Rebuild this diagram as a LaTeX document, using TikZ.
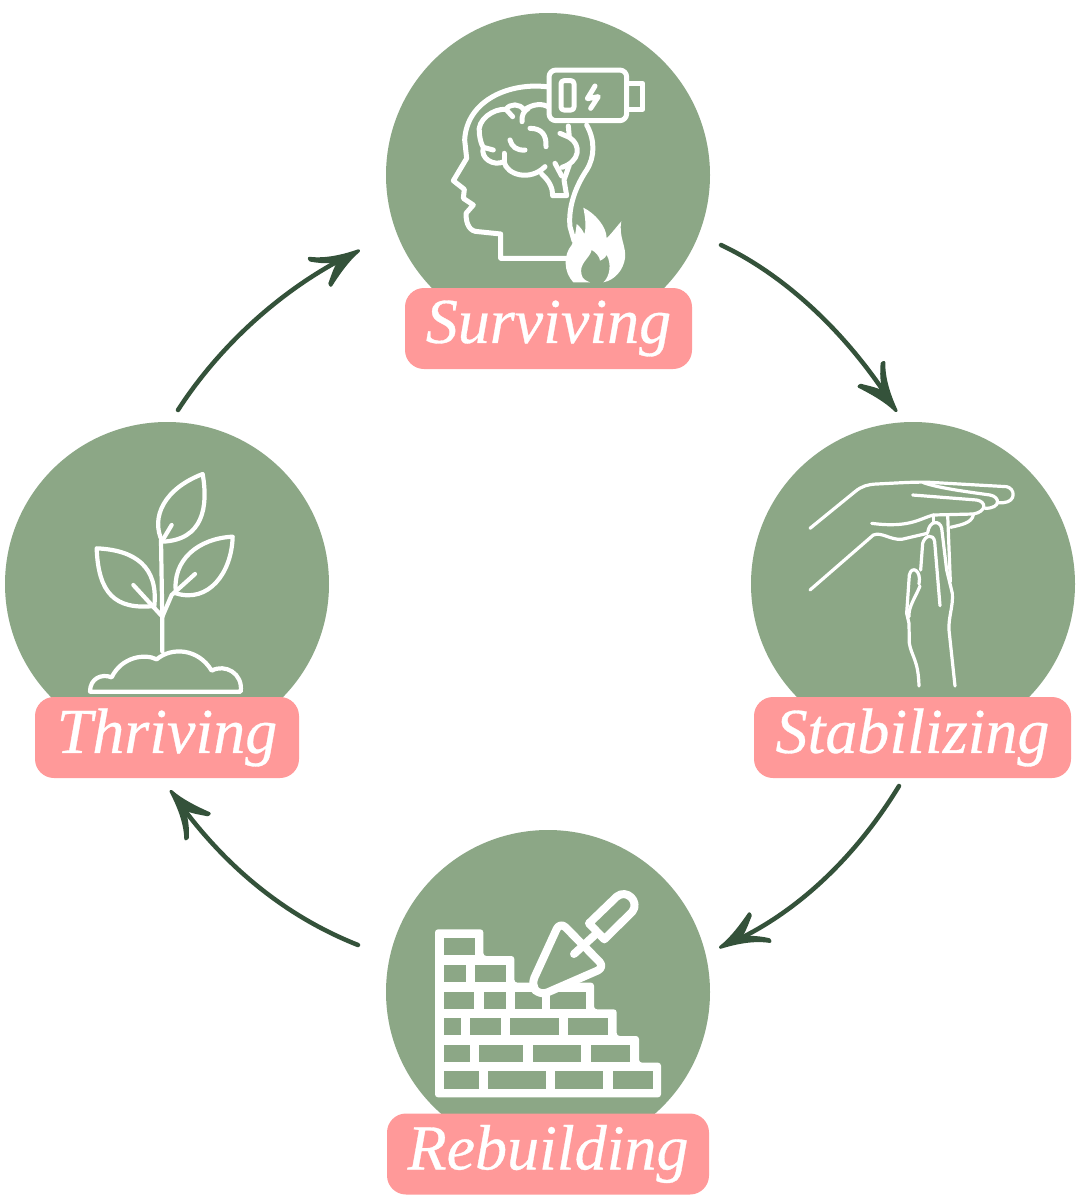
\documentclass[tikz,border=0pt]{standalone}
\usepackage{fontspec}
\setmainfont[ItalicFeatures={FakeBold=0.5}]{Liberation Serif}
\usetikzlibrary{arrows.meta,bending}
\definecolor{sage}{HTML}{8CA786}
\definecolor{pinkbox}{HTML}{FF9999}
\definecolor{arrowgreen}{HTML}{34523A}
\pgfdeclarearrow{
  name=HandBarb,
  setup code={
    \pgfarrowssettipend{1.5pt}
    \pgfarrowssetlineend{-14pt}
    \pgfarrowssetbackend{-48pt}
    \pgfarrowshullpoint{0pt}{0pt}
    \pgfarrowshullpoint{-48pt}{18pt}
    \pgfarrowshullpoint{-42pt}{-18pt}
  },
  drawing code={
    \pgfsetdash{}{0pt}
    \pgfsetroundjoin
    \pgfsetlinewidth{3pt}
    \pgfpathmoveto{\pgfqpoint{0pt}{0pt}}
    \pgfpathcurveto{\pgfqpoint{-15pt}{2.5pt}}{\pgfqpoint{-33pt}{7pt}}{\pgfqpoint{-47pt}{17pt}}
    \pgfpathlineto{\pgfqpoint{-47pt}{15pt}}
    \pgfpathcurveto{\pgfqpoint{-35pt}{5pt}}{\pgfqpoint{-25pt}{1.5pt}}{\pgfqpoint{-20pt}{0.5pt}}
    \pgfpathcurveto{\pgfqpoint{-27pt}{-2pt}}{\pgfqpoint{-33pt}{-8pt}}{\pgfqpoint{-41pt}{-15pt}}
    \pgfpathlineto{\pgfqpoint{-41pt}{-17pt}}
    \pgfpathcurveto{\pgfqpoint{-30pt}{-11pt}}{\pgfqpoint{-15pt}{-3pt}}{\pgfqpoint{0pt}{0pt}}
    \pgfpathclose
    \pgfusepathqfillstroke
  }
}
\tikzset{
  disc/.style={circle,fill=sage,minimum size=324pt,inner sep=0pt,outer sep=0pt},
  tag/.style={fill=pinkbox,rounded corners=19pt,minimum height=81pt,inner sep=0pt,outer sep=0pt,text=white,font=\fontsize{64}{64}\selectfont\itshape},
  flow/.style={draw=arrowgreen,line width=4.5pt,line cap=round,-{HandBarb[flex]}},
  icon/.style={draw=white,line cap=round,line join=round,fill=none},
  zoomed/.style={x=0.33333pt,y=-0.33333pt}
}
\newcommand{\tagtext}[1]{\raisebox{-3pt}{#1}}
\begin{document}
\begin{tikzpicture}[x=1pt,y=-1pt]
\useasboundingbox[fill=white] (0,0) rectangle (1080,1203);
\node[disc] (surv) at (548,175) {};
\node[disc] (stab) at (913,584) {};
\node[disc] (reb) at (548,992) {};
\node[disc] (thr) at (167,584) {};

% brain icon
\begin{scope}[shift={(430pt,-50pt)},zoomed]
\begin{scope}[icon,line width=5pt]
\draw (357,111) .. controls (240,95) and (110,150) .. (104,270) -- (110,325) -- (70,392) -- (103,418) -- (100,445) -- (130,465) -- (108,490) .. controls (108,525) and (120,545) .. (145,545) -- (212,552) -- (212,625) -- (410,625);
\draw (470,225) .. controls (495,270) and (495,320) .. (470,360) .. controls (430,420) and (415,480) .. (420,530) -- (432,572);
\draw (357,172) .. controls (340,160) and (310,160) .. (282,180) .. controls (270,160) and (240,160) .. (228,178) .. controls (190,175) and (140,210) .. (148,250) .. controls (150,270) and (155,285) .. (160,292) .. controls (150,325) and (190,350) .. (222,335) .. controls (230,375) and (300,395) .. (345,350);
\draw (335,372) .. controls (360,395) and (368,415) .. (368,437) -- (410,437) -- (402,390) -- (418,345);
\draw (375,340) -- (395,378);
\draw (396,352) .. controls (450,335) and (455,285) .. (418,262) -- (390,250);
\draw (415,228) -- (418,262);
\draw (276,215) .. controls (275,195) and (280,185) .. (295,175);
\draw (300,235) .. controls (335,235) and (350,255) .. (348,290);
\draw (240,270) .. controls (245,290) and (260,302) .. (285,300);
\draw (222,310) -- (222,335);
\draw (228,178) -- (248,200);
\draw (160,292) -- (190,300);
\draw[fill=sage,rounded corners=7pt] (357,60) rectangle (590,212);
\draw[rounded corners=3pt] (393,92) rectangle (432,180);
\draw (595,100) -- (638,100) -- (638,178) -- (595,178);
\draw (495,108) -- (472,146) -- (505,140) -- (482,175);
\end{scope}
\fill[white] (430,697) .. controls (400,665) and (400,615) .. (425,585) .. controls (435,565) and (438,540) .. (440,522) .. controls (450,530) and (458,540) .. (463,552) .. controls (470,530) and (465,500) .. (460,473) .. controls (495,490) and (530,530) .. (530,565) .. controls (545,550) and (560,530) .. (574,514) .. controls (565,560) and (590,590) .. (585,625) .. controls (580,660) and (555,690) .. (520,697) .. controls (540,680) and (545,640) .. (530,615) .. controls (525,625) and (515,630) .. (510,632) .. controls (510,620) and (495,605) .. (485,600) .. controls (480,625) and (445,640) .. (455,675) .. controls (458,688) and (468,692) .. (480,697) -- cycle;
\end{scope}

% hand icon
\begin{scope}[shift={(790pt,-460pt)},zoomed]
\begin{scope}[icon,line width=3.2pt]
\draw (60,205) -- (195,95) .. controls (215,78) and (235,73) .. (260,72) .. controls (340,68) and (380,65) .. (420,67) -- (650,80) .. controls (675,85) and (680,125) .. (640,128) -- (622,128);
\draw (400,68) .. controls (450,85) and (530,95) .. (600,105) .. controls (630,110) and (635,145) .. (585,145);
\draw (368,105) -- (560,120) .. controls (590,125) and (590,155) .. (550,162) -- (430,165) .. controls (390,175) and (360,205) .. (245,190);
\draw (550,165) .. controls (545,190) and (510,195) .. (482,202);
\draw (60,390) -- (250,225) .. controls (275,215) and (300,240) .. (335,238) -- (412,220);
\draw (430,165) -- (430,185);
\draw (413,218) .. controls (418,180) and (450,180) .. (455,205) -- (470,330) -- (487,400) .. controls (490,440) and (475,470) .. (477,510) -- (495,678);
\draw (473,165) -- (481,365);
\draw (392,330) -- (398,250) .. controls (405,225) and (430,220) .. (434,245) -- (450,437);
\draw (387,372) .. controls (395,330) and (365,315) .. (358,345) -- (350,460) -- (357,490) -- (358,550) .. controls (365,590) and (385,600) .. (387,678);
\draw (390,378) .. controls (375,415) and (355,440) .. (357,470);
\end{scope}
\end{scope}

% brick wall icon
\begin{scope}[shift={(425pt,-880pt)},zoomed]
\fill[white,rounded corners=3pt] (30,148) -- (175,148) -- (175,228) -- (268,228) -- (268,308) -- (507,308) -- (507,388) -- (575,388) -- (575,468) -- (642,468) -- (642,548) -- (708,548) -- (708,652) -- (30,652) -- cycle;
\foreach \xa/\ya/\xb/\yb in {56/174/149/226,
  56/255/122/306,150/255/242/306,
  56/335/148/386,176/335/242/386,270/335/350/386,376/335/482/386,
  56/414/108/465,136/414/229/465,256/414/403/465,430/414/549/465,
  56/494/135/545,163/494/295/545,323/494/469/545,497/494/615/545,
  56/573/162/626,189/573/362/626,389/573/535/626,563/573/683/626}
  \fill[sage] (\xa,\ya) rectangle (\xb,\yb);
\begin{scope}[icon,line width=8pt]
\draw[fill=sage,rounded corners=8pt] (405,125) -- (540,262) -- (345,347) -- (318,315) -- cycle;
\draw (447,222) -- (515,160);
\draw[fill=sage] (492,130) -- (575,50) .. controls (605,25) and (645,65) .. (622,95) -- (538,178) -- cycle;
\end{scope}
\end{scope}

% plant icon
\begin{scope}[shift={(75pt,-460pt)},zoomed]
\begin{scope}[icon,line width=4.2pt]
\draw (262,575) -- (262,480) -- (258,240);
\draw (262,245) .. controls (225,170) and (270,85) .. (383,42) .. controls (400,140) and (385,240) .. (262,245);
\draw (266,235) -- (290,195);
\draw (238,438) .. controls (120,450) and (70,400) .. (65,265) .. controls (180,270) and (250,320) .. (238,438);
\draw (175,375) -- (262,470);
\draw (303,400) .. controls (290,300) and (370,235) .. (473,230) .. controls (470,340) and (400,430) .. (303,400);
\draw (360,342) -- (290,405) -- (262,470);
\draw (45,695) .. controls (45,655) and (80,640) .. (110,652) .. controls (140,590) and (210,580) .. (245,598) .. controls (290,560) and (370,565) .. (410,632) .. controls (450,610) and (505,640) .. (497,695) -- cycle;
\end{scope}
\end{scope}

\node[tag,minimum width=287pt] (survl) at (548.5,328.5) {\tagtext{Surviving}};
\node[tag,minimum width=317pt] (stabl) at (912.5,737.5) {\tagtext{Stabilizing}};
\node[tag,minimum width=322pt] (rebl) at (548,1154) {\tagtext{Rebuilding}};
\node[tag,minimum width=264pt] (thrl) at (167,737.5) {\tagtext{Thriving}};

\draw[flow] ([xshift=173pt,yshift=-70pt]surv.center) .. controls (785,275) and (850,335) .. ([xshift=-16pt,yshift=172pt]stab.center);
\draw[flow] ([xshift=-14pt,yshift=-202pt]stab.center) .. controls (860,850) and (800,915) .. ([xshift=171pt,yshift=44pt]reb.center);
\draw[flow] ([xshift=-190pt,yshift=47pt]reb.center) .. controls (290,918) and (225,870) .. ([xshift=3pt,yshift=-206pt]thr.center);
\draw[flow] ([xshift=11pt,yshift=174pt]thr.center) .. controls (220,345) and (285,285) .. ([xshift=-188pt,yshift=-75pt]surv.center);
\end{tikzpicture}
\end{document}
